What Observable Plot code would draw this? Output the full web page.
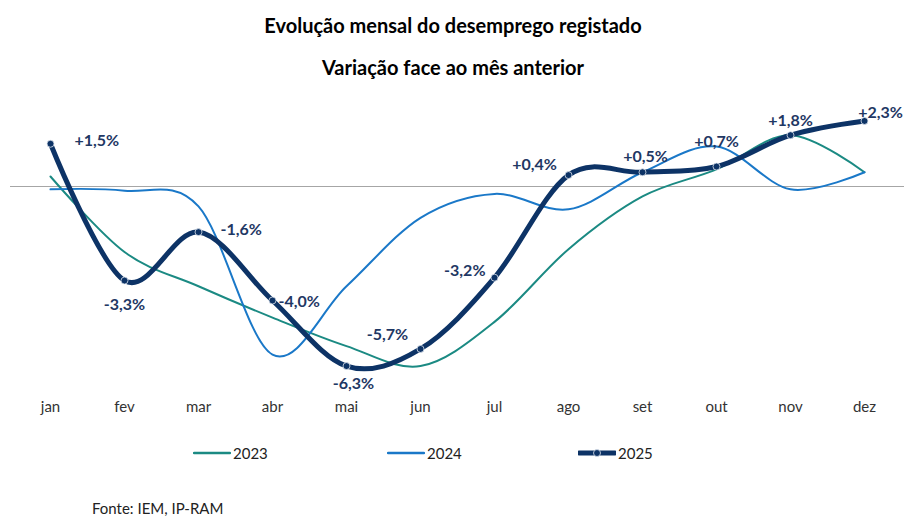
<!DOCTYPE html>
<html>
<head>
<meta charset="utf-8">
<script src="https://cdn.jsdelivr.net/npm/d3@7"></script>
<script src="https://cdn.jsdelivr.net/npm/@observablehq/plot@0.6"></script>
<style>
  body { margin: 0; background: #fff; }
  #wrap { position: relative; width: 906px; height: 519px; overflow: hidden; font-family: Lato, "Noto Sans", sans-serif; }
  .title { position: absolute; left: 0; width: 906px; text-align: center; font-weight: bold; font-size: 20px; line-height: 24px; color: #000; }
  #chart { position: absolute; left: 0; top: 90px; }
  #legend { position: absolute; top: 443px; left: 0; width: 906px; height: 20px; font-size: 15px; color: #222; }
  .item { position: absolute; display: flex; align-items: center; }
  .item svg { margin-right: 2px; }
  #source { position: absolute; left: 92px; top: 499px; font-size: 15px; line-height: 18px; color: #222; }
</style>
</head>
<body>
<div id="wrap">
  <div class="title" style="top:13px">Evolução mensal do desemprego registado</div>
  <div class="title" style="top:55px">Variação face ao mês anterior</div>
  <div id="chart"></div>
  <div id="legend"></div>
  <div id="source">Fonte: IEM, IP-RAM</div>
</div>
<script>
// ---- data ----
const months = ["jan","fev","mar","abr","mai","jun","jul","ago","set","out","nov","dez"];
const years = ["2023","2024","2025"];
const v2023 = [0.35, -2.3, -3.5, -4.6, -5.6, -6.3, -4.75, -2.2, -0.35, 0.6, 1.8, 0.5];
const v2024 = [-0.1, -0.15, -0.7, -5.9, -3.5, -1.1, -0.26, -0.8, 0.5, 1.4, -0.1, 0.5];
const v2025 = [1.5, -3.3, -1.6, -4.0, -6.3, -5.7, -3.2, 0.4, 0.5, 0.7, 1.8, 2.3];

// ---- layout (label offsets relative to each 2025 point) ----
const labelDx = [24, 0, 22, 6, 7, -33, -9, -34, 3, 0, 0, 16];
const labelDy = [-3, 24, -2, 1, 18, -14, -7, -10, -15, -25, -14, -8];
const labelAnchor = ["start","middle","start","start","middle","middle","end","middle","middle","middle","middle","middle"];

const colors = {"2023": "#1b8a83", "2024": "#1a78c8", "2025": "#0d3366"};
const labelColor = "#1f3864";

const rows = (vals) => months.map((m, i) => ({month: m, value: vals[i]}));
const d2023 = rows(v2023), d2024 = rows(v2024), d2025 = rows(v2025);

const fmt = (v) => (v > 0 ? "+" : "") + v.toFixed(1).replace(".", ",") + "%";

const labelMarks = d2025.map((d, i) =>
  Plot.text([d], {
    x: "month", y: "value", text: (d) => fmt(d.value),
    dx: labelDx[i], dy: labelDy[i], textAnchor: labelAnchor[i],
    fill: labelColor, fontWeight: "bold", fontSize: 16
  })
);

const chart = Plot.plot({
  width: 906,
  height: 340,
  marginLeft: 10,
  marginRight: 2,
  marginTop: 24.75,
  marginBottom: 44.5,
  style: {fontFamily: "Lato, 'Noto Sans', sans-serif", background: "transparent", overflow: "visible"},
  x: {type: "point", domain: months, padding: 0.5, label: null},
  y: {domain: [-7, 2.5], axis: null},
  marks: [
    Plot.ruleY([0], {stroke: "#a6a6a6", strokeWidth: 1}),
    Plot.line(d2023, {x: "month", y: "value", stroke: colors["2023"], strokeWidth: 2, curve: "cardinal"}),
    Plot.line(d2024, {x: "month", y: "value", stroke: colors["2024"], strokeWidth: 2, curve: "cardinal"}),
    Plot.line(d2025, {x: "month", y: "value", stroke: colors["2025"], strokeWidth: 5, curve: "cardinal"}),
    Plot.dot(d2025, {x: "month", y: "value", r: 3.5, fill: colors["2025"], stroke: "#dfe6ef", strokeWidth: 0.8}),
    ...labelMarks,
    Plot.axisX({tickSize: 0, tickPadding: 15, fontSize: 15, color: "#333", label: null})
  ]
});
document.getElementById("chart").appendChild(chart);

// ---- legend ----
const legend = document.getElementById("legend");
const legendLeft = {"2023": 193, "2024": 387, "2025": 578};
years.forEach((y) => {
  const item = document.createElement("div");
  item.className = "item";
  item.style.left = legendLeft[y] + "px";
  const w = 38;
  const thick = y === "2025" ? 5 : 2.5;
  let svg = `<svg width="${w}" height="20"><line x1="1" x2="${w-1}" y1="10" y2="10" stroke="${colors[y]}" stroke-width="${thick}" stroke-linecap="round"/>`;
  if (y === "2025") svg += `<circle cx="${w/2}" cy="10" r="3.5" fill="${colors[y]}" stroke="#dfe6ef" stroke-width="0.8"/>`;
  svg += `</svg>`;
  item.innerHTML = svg + `<span>${y}</span>`;
  legend.appendChild(item);
});
</script>
</body>
</html>
